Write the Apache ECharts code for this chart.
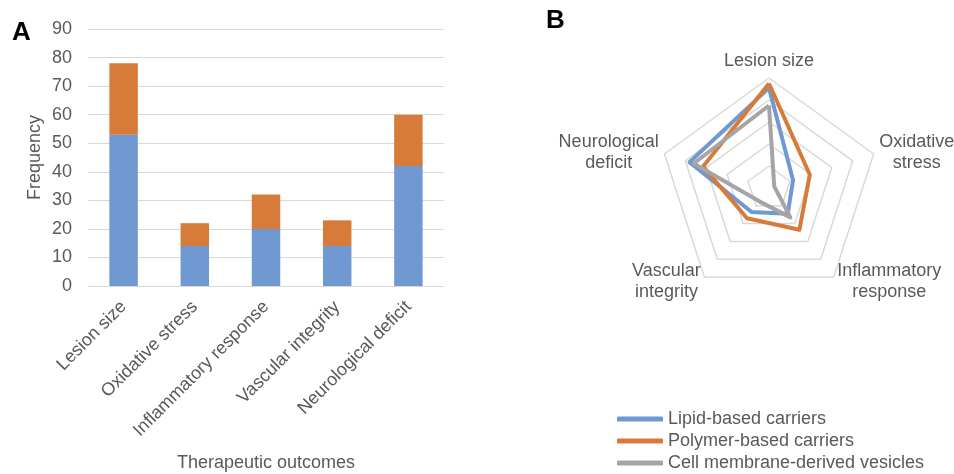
<!DOCTYPE html>
<html>
<head>
<meta charset="utf-8">
<script src="https://cdn.jsdelivr.net/npm/echarts@6/dist/echarts.min.js"></script>
<style>
  html, body { margin: 0; padding: 0; background: #fff; }
  #chart { width: 954px; height: 474px; }
</style>
</head>
<body>
<div id="chart"></div>
<script>
// panel A: stacked frequency bars
const outcomes = ['Lesion size', 'Oxidative stress', 'Inflammatory response', 'Vascular integrity', 'Neurological deficit'];
const blueCounts = [53, 14, 20, 14, 42];
const orangeCounts = [25, 8, 12, 9, 18];
const yTicks = { min: 0, max: 90, interval: 10 };

// panel B: radar (clockwise from top)
const radarAxes = ['Lesion size', 'Oxidative stress', 'Inflammatory response', 'Vascular integrity', 'Neurological deficit'];
const radarLabels = [['Lesion size'], ['Oxidative', 'stress'], ['Inflammatory', 'response'], ['Vascular', 'integrity'], ['Neurological', 'deficit']];
const lipidScores = [91, 23, 29, 27, 76];
const polymerScores = [95, 39, 47, 34, 63];
const vesicleScores = [75, 5, 33, 15, 72];
const carrierNames = ['Lipid-based carriers', 'Polymer-based carriers', 'Cell membrane-derived vesicles'];

const BLUE = '#7099d2';
const ORANGE = '#d67b39';
const GRAY = '#a5a5a5';
const TXT = '#595959';
const FONT = '"Liberation Sans", Arial, sans-serif';
const FS = 18;

// echarts places radar indicators counter-clockwise, so reverse the tail to get clockwise order
const order = [0, 4, 3, 2, 1];
const pick = arr => order.map(i => arr[i]);

const chart = echarts.init(document.getElementById('chart'));

const option = {
  animation: false,
  textStyle: { fontFamily: FONT },
  color: [BLUE, ORANGE, GRAY],
  graphic: [
    { type: 'text', left: 12, top: 20, style: { text: 'A', font: 'bold 26px ' + FONT, fill: '#000' } },
    { type: 'text', left: 546, top: 8, style: { text: 'B', font: 'bold 26px ' + FONT, fill: '#000' } }
  ],
  grid: { left: 88, right: 510, top: 29, bottom: 188, containLabel: false, outerBoundsMode: 'none' },
  xAxis: {
    type: 'category',
    data: outcomes,
    axisTick: { show: false },
    axisLine: { lineStyle: { color: '#d9d9d9', width: 1 } },
    axisLabel: { rotate: 45, fontSize: FS, color: TXT, margin: 18, interval: 0 },
    name: 'Therapeutic outcomes',
    nameLocation: 'middle',
    nameGap: 168,
    nameTextStyle: { fontSize: FS, color: TXT }
  },
  yAxis: {
    type: 'value',
    min: yTicks.min,
    max: yTicks.max,
    interval: yTicks.interval,
    axisLine: { show: false },
    axisTick: { show: false },
    axisLabel: { fontSize: FS, color: TXT, margin: 16 },
    splitLine: { lineStyle: { color: '#d9d9d9', width: 1 } },
    name: 'Frequency',
    nameLocation: 'middle',
    nameGap: 44,
    nameTextStyle: { fontSize: FS, color: TXT }
  },
  radar: {
    center: [769, 188],
    radius: 110,
    startAngle: 90,
    shape: 'polygon',
    splitNumber: 5,
    indicator: pick(radarAxes).map(n => ({ name: n, min: 0, max: 100 })),
    axisName: {
      color: TXT,
      fontSize: FS,
      lineHeight: 21,
      formatter: (v) => radarLabels[radarAxes.indexOf(v)].map(s => '{c|' + s + '}').join('\n'),
      rich: { c: { align: 'center', fontSize: FS, color: TXT, lineHeight: 21 } }
    },
    nameGap: 6,
    axisLine: { show: false },
    splitLine: { lineStyle: { color: '#d9d9d9', width: 1.5 } },
    splitArea: { show: false }
  },
  legend: {
    data: carrierNames,
    orient: 'vertical',
    left: 617,
    top: 410,
    padding: 0,
    icon: 'roundRect',
    itemWidth: 46,
    itemHeight: 5,
    itemGap: 4,
    textStyle: { fontSize: FS, color: TXT, lineHeight: 18 }
  },
  series: [
    {
      type: 'bar',
      stack: 'total',
      data: blueCounts,
      barWidth: '40%',
      itemStyle: { color: BLUE },
      silent: true
    },
    {
      type: 'bar',
      stack: 'total',
      data: orangeCounts,
      barWidth: '40%',
      itemStyle: { color: ORANGE },
      silent: true
    },
    {
      type: 'radar',
      symbol: 'none',
      data: [
        { name: carrierNames[0], value: pick(lipidScores), lineStyle: { color: BLUE, width: 4 }, itemStyle: { color: BLUE } },
        { name: carrierNames[1], value: pick(polymerScores), lineStyle: { color: ORANGE, width: 4 }, itemStyle: { color: ORANGE } },
        { name: carrierNames[2], value: pick(vesicleScores), lineStyle: { color: GRAY, width: 4 }, itemStyle: { color: GRAY } }
      ]
    }
  ]
};

chart.setOption(option);
</script>
</body>
</html>
